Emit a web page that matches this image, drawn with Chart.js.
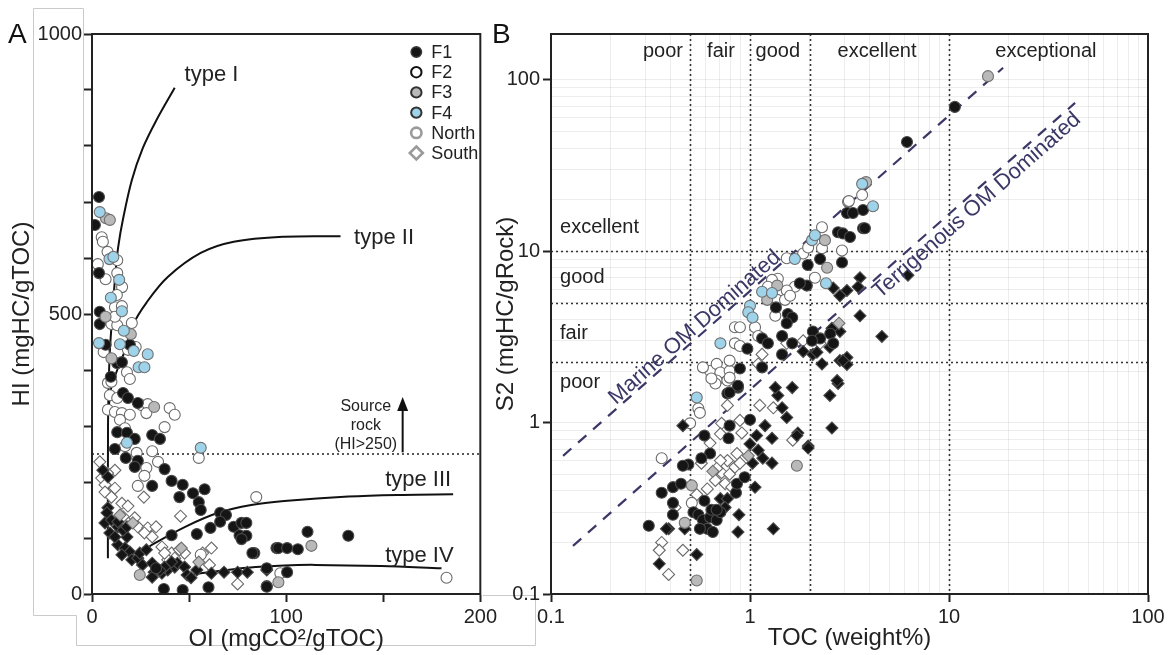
<!DOCTYPE html>
<html>
<head>
<meta charset="utf-8">
<script src="https://cdn.jsdelivr.net/npm/chart.js@4.4.1/dist/chart.umd.min.js"></script>
<style>
  html, body { margin: 0; padding: 0; background: #fff; }
  #wrap { position: relative; width: 1168px; height: 655px; overflow: hidden; }
  canvas { position: absolute; top: 0; }
  #bg { left: 0; }
  #chartA { left: 0; }
  #chartB { left: 490px; }
</style>
</head>
<body>
<div id="wrap">
  <canvas id="bg" width="1168" height="655"></canvas>
  <canvas id="chartA" width="500" height="655"></canvas>
  <canvas id="chartB" width="678" height="655"></canvas>
</div>
<script>
// ---- Panel A : HI vs OI (pairs are [OI, HI]) ----
const aF1N = [[3.6,709],[1.5,659],[3.6,573],[4,504],[4,482],[7,445],[19.5,445],[13,412],[15.4,414],[9.7,388],[16,359],[18.5,350],[23.6,341],[13,289],[18,288],[22,277],[31,284],[35,277],[11.8,259],[17.4,243],[23.6,238],[22,227],[37.4,223],[41,202],[46.7,195],[31,193],[52,180],[58,187],[45,173],[55,164],[56,150],[66,145],[69,141],[66,129],[61,118],[73,120],[77,127],[79.5,127],[76,105],[79.5,104],[77,98],[54,107],[41,105],[83.6,73],[95,82],[37,9],[46.7,7],[60,12],[90,14],[33,46],[111,111],[132,104],[96,82],[100.5,82],[106,80],[90,46],[100.5,39],[90,13],[82.6,73]];
const aF1S = [[5.6,221],[8.2,209],[8.2,154],[7.7,145],[6.7,127],[10,132],[9.2,109],[13.3,120],[13.3,88],[17,82],[19.5,75],[15.4,70],[20.5,61],[23.6,64],[26,52],[31,55],[32,39],[31,30],[36,37],[39,43],[42.6,48],[44,55],[47.7,48],[49,34],[51,29],[54,43],[61.5,37],[68,39],[75,39],[80,39],[90,43],[11.8,102],[18,102],[16,114],[41,57],[37.4,48],[13.3,129],[18,120],[24.6,73],[28,79],[35,42]];
const aF2N = [[5,637],[5.6,629],[8,611],[13,596],[3,589],[7,562],[13,573],[15.5,548],[12.8,534],[11.8,512],[15.4,514],[10,482],[13,480],[11.8,495],[20.5,484],[18.5,436],[22.5,441],[6,432],[18,396],[19.5,384],[9.2,379],[8.2,377],[10,379],[9.2,355],[13,350],[25.6,337],[28.7,339],[28,323],[40,332],[42.6,320],[8.2,329],[11.8,325],[15.4,323],[14.4,311],[17,296],[19.5,320],[37.4,298],[17,264],[55,243],[23,252],[31,255],[34,236],[28,225],[27,211],[23.6,193],[84.6,173],[56,70],[182.6,29],[97,37]];
const aF2S = [[4,236],[5,207],[6.7,195],[6.7,182],[10,173],[11.8,189],[11.8,221],[8,216],[45.6,139],[26.7,173],[15.4,162],[18.5,157],[16,138],[22,136],[23.6,120],[28.7,118],[27,109],[33,120],[31,102],[36,84],[41,73],[42.6,64],[47.7,73],[39,61],[61.5,82],[57,73],[37.4,73],[45,79],[75,18],[60.5,52]];
const aF3N = [[7.2,671],[9.2,668],[7,495],[20,464],[10,421],[32,334],[24.6,34],[96,21],[113,86]];
const aF3S = [[14.4,141],[21,127],[46,82],[55,57]];
const aF4N = [[4,682],[9,598],[11,602],[14,561],[9.7,529],[15.4,505],[16.4,470],[3.6,448],[14.4,446],[21.5,434],[28.7,428],[24,405],[27,405],[18,270],[56,261]];

// kerogen type curves
const typeI = [[8.2,64],[8.25,300],[9,420],[10.5,500],[12,570],[13.5,620],[16,670],[20.5,739],[26,795],[33,845],[42.6,904]];
const typeII = [[8.5,330],[10,370],[13,400],[17,435],[21,480],[28,520],[39,566],[56,609],[73,629],[99,638],[128,639]];
const typeIII = [[28,80],[31,88],[48,120],[65,145],[82,159],[99,166],[132,174],[160,177],[186,178]];
const typeIV = [[51,34],[58,38],[65,41],[80,47],[99,51],[115,52],[149,50],[180,46]];
const typeNames = ['type I', 'type II', 'type III', 'type IV'];
const typeLabelOI = [47.7, 135, 151, 151];
const typeLabelHI = [927, 636, 204, 68];

const sourceRockHI = 250;
const sourceText = ['Source', 'rock', '(HI>250)'];
const sourceTextOI = 141;
const sourceTextHI = [334, 300, 266];
const arrowOI = 160, arrowFromHI = 253, arrowToHI = 352;

const aXTicks = [0, 100, 200];
const aYTicks = [0, 500, 1000];

// ---- Panel B : S2 vs TOC (pairs are [TOC, S2]) ----
const bF1N = [[3.07,16.7],[3.29,16.7],[3.70,17.4],[2.77,12.9],[2.93,12.7],[3.18,12.1],[3.70,13.6],[2.25,9.0],[1.95,8.3],[2.90,8.6],[1.93,6.3],[1.78,6.5],[1.35,4.7],[1.55,4.3],[1.63,4.1],[0.97,2.7],[1.15,3.1],[1.23,2.9],[1.45,3.2],[1.63,2.9],[2.07,3.4],[2.25,3.1],[2.05,3.0],[2.53,3.3],[2.62,2.9],[0.89,2.07],[1.15,2.1],[1.45,2.5],[0.49,0.57],[0.36,0.39],[0.41,0.42],[0.45,0.44],[0.31,0.25],[0.41,0.29],[0.41,0.34],[0.52,0.30],[0.55,0.29],[0.58,0.27],[0.63,0.28],[0.68,0.27],[0.61,0.24],[0.56,0.24],[0.65,0.23],[0.71,0.30],[0.59,0.35],[0.64,0.31],[0.68,0.31],[0.85,0.39],[0.86,0.44],[0.94,0.48],[0.77,1.48],[0.87,1.60],[0.79,0.96],[0.78,0.81],[1.0,1.04],[0.59,0.84],[0.63,0.66],[0.57,0.62],[10.7,69.5],[6.15,43.4],[3.78,13.6],[0.46,0.56],[0.79,1.50],[0.87,1.64],[1.53,3.8]];
const bF1S = [[0.46,0.96],[0.39,0.24],[0.47,0.24],[0.35,0.15],[0.54,0.17],[0.88,0.29],[0.87,0.23],[1.31,0.24],[1.06,0.42],[0.71,0.36],[0.77,0.36],[0.75,0.32],[1.0,0.75],[1.08,0.84],[1.19,0.96],[1.10,0.69],[1.16,0.62],[1.29,0.81],[1.29,0.58],[1.03,0.58],[1.38,1.44],[1.45,1.22],[1.53,1.07],[1.74,0.87],[1.96,0.73],[2.52,1.44],[2.58,0.93],[2.77,1.69],[1.63,1.60],[1.34,1.60],[1.85,2.6],[2.07,2.5],[2.83,3.4],[3.57,7.0],[3.49,6.2],[3.07,5.9],[3.57,4.2],[2.83,2.3],[3.07,2.4],[2.30,2.2],[2.74,1.76],[2.62,6.1],[2.83,5.5],[6.22,7.24],[4.6,3.18],[3.07,2.18],[2.58,3.55],[2.52,2.75],[2.93,2.30],[1.96,0.71],[1.72,0.84],[2.17,2.57],[0.38,0.24]];
const bF2N = [[3.11,19.4],[3.66,21.3],[2.30,13.8],[1.85,9.7],[1.53,9.1],[2.30,10.4],[1.96,10.5],[2.90,10.1],[2.12,7.0],[1.68,6.2],[1.53,5.9],[1.38,6.9],[1.29,6.8],[1.23,6.2],[1.37,5.2],[1.50,5.2],[1.59,5.5],[1.34,4.2],[0.84,3.6],[0.89,3.6],[1.06,3.6],[1.10,3.2],[0.84,2.9],[0.89,2.8],[0.63,2.0],[0.68,2.2],[0.71,1.96],[0.79,2.0],[0.68,1.76],[0.67,1.69],[0.77,1.76],[0.58,2.10],[0.64,1.81],[0.79,2.30],[0.55,1.21],[0.56,1.14],[0.50,0.99],[0.36,0.62],[0.51,0.34],[3.14,19.6],[0.79,1.83]];
const bF2S = [[1.53,2.9],[1.85,3.0],[2.25,2.9],[1.15,2.5],[1.10,2.2],[0.42,0.32],[0.36,0.20],[0.35,0.18],[0.46,0.18],[0.39,0.13],[0.61,0.41],[0.67,0.46],[0.72,0.51],[0.79,0.50],[0.84,0.55],[0.89,0.58],[0.86,0.66],[0.77,0.60],[0.71,0.60],[0.68,0.54],[0.75,0.44],[0.81,0.42],[0.57,0.58],[0.54,0.38],[0.72,0.99],[0.77,1.26],[0.89,1.03],[0.91,0.87],[1.12,1.26],[1.31,1.22],[1.64,0.79],[0.63,0.76],[0.71,0.86]];
const bF3N = [[15.7,105],[3.83,25.3],[2.38,11.6],[2.44,8.0],[1.37,6.3],[1.22,5.2],[0.51,0.43],[0.47,0.26],[0.54,0.12],[1.72,0.56]];
const bF3S = [[0.65,0.52],[0.98,0.64],[2.80,3.8]];
const bF4N = [[3.66,24.7],[2.05,11.6],[2.12,12.4],[1.68,9.0],[2.41,6.5],[1.15,5.8],[1.29,5.7],[1.0,4.8],[0.98,4.4],[1.03,4.1],[0.71,2.9],[0.54,1.40],[4.15,18.3]];

const marineLine = [[0.115,0.64],[18.7,117.5]];
const terrLine = [[0.129,0.191],[43,73.3]];
const marineLabelTOC = 0.567, terrLabelTOC = 12.6;

const bTocBounds = [0.5, 1, 2, 10];
const bS2Bounds = [2.25, 5, 10];
const tocClassNames = ['poor', 'fair', 'good', 'excellent', 'exceptional'];
const tocClassX = [0.365, 0.715, 1.38, 4.35, 30.7];
const tocClassS2 = 146;
const s2ClassNames = ['excellent', 'good', 'fair', 'poor'];
const s2ClassY = [13.8, 7.05, 3.31, 1.71];
const s2ClassTOC = 0.111;

const bXTicks = [0.1, 1, 10, 100];
const bYTicks = [0.1, 1, 10, 100];

const legendNames = ['F1', 'F2', 'F3', 'F4', 'North', 'South'];

// ---- styles ----
const FONT = "'Liberation Sans', Arial, Helvetica, sans-serif";
const INK = '#222';
const OM = '#3b3766';
const fills = { F1: '#151515', F2: '#ffffff', F3: '#b9b9b9', F4: '#9fd3ea' };
const rims = { F1: '#4a4a4a', F2: '#6a6a6a', F3: '#6f6f6f', F4: '#6f6f6f' };

const toXY = pairs => pairs.map(p => ({ x: p[0], y: p[1] }));

function pts(pairs, f, diamond) {
  return {
    data: toXY(pairs),
    showLine: false,
    pointStyle: diamond ? 'rectRot' : 'circle',
    pointRadius: diamond ? 6 : 5.5,
    pointBorderWidth: 1.1,
    pointBackgroundColor: fills[f],
    pointBorderColor: rims[f]
  };
}

function curve(pairs, extra) {
  return Object.assign({
    data: toXY(pairs), showLine: true, pointRadius: 0,
    borderColor: '#111', borderWidth: 2, tension: 0.35, fill: false
  }, extra || {});
}

function logTicks(min, max) {
  const out = [];
  for (let e = -1; e <= 2; e++) {
    for (let m = 1; m <= 9; m++) {
      const v = parseFloat((m * Math.pow(10, e)).toPrecision(3));
      if (v >= min - 1e-9 && v <= max + 1e-9) out.push(v);
    }
  }
  return out;
}

function frame(ctx, ca) {
  ctx.save();
  ctx.strokeStyle = INK;
  ctx.lineWidth = 2;
  ctx.strokeRect(ca.left, ca.top, ca.right - ca.left, ca.bottom - ca.top);
  ctx.restore();
}

function marker(ctx, x, y, style, r, fill, stroke, lw) {
  ctx.save();
  ctx.fillStyle = fill;
  ctx.strokeStyle = stroke;
  ctx.lineWidth = lw;
  ctx.beginPath();
  if (style === 'diamond') {
    ctx.moveTo(x, y - r); ctx.lineTo(x + r, y); ctx.lineTo(x, y + r); ctx.lineTo(x - r, y); ctx.closePath();
  } else {
    ctx.arc(x, y, r, 0, Math.PI * 2);
  }
  ctx.fill();
  ctx.stroke();
  ctx.restore();
}

const tickFont = { family: FONT, size: 20 };
const titleFont = { family: FONT, size: 24 };

// faint frame left over around panel A in the source figure
(function () {
  const c = document.getElementById('bg').getContext('2d');
  c.strokeStyle = '#cacaca';
  c.lineWidth = 1;
  c.beginPath();
  c.moveTo(83.5, 598); c.lineTo(83.5, 8.5); c.lineTo(33.5, 8.5); c.lineTo(33.5, 615.5);
  c.lineTo(76.5, 615.5); c.lineTo(76.5, 645.5); c.lineTo(535.5, 645.5); c.lineTo(535.5, 595.5); c.lineTo(483, 595.5);
  c.stroke();
})();

const panelA = {
  id: 'panelA',
  beforeDatasetsDraw(chart) {
    const { ctx, chartArea: ca, scales: { y } } = chart;
    const yy = y.getPixelForValue(sourceRockHI);
    ctx.save();
    ctx.strokeStyle = INK;
    ctx.lineWidth = 1.6;
    ctx.setLineDash([2, 3]);
    ctx.beginPath(); ctx.moveTo(ca.left, yy); ctx.lineTo(ca.right, yy); ctx.stroke();
    ctx.restore();
  },
  afterDatasetsDraw(chart) {
    const { ctx, chartArea: ca, scales: { x, y } } = chart;
    ctx.save();
    ctx.fillStyle = INK;
    ctx.font = '22px ' + FONT;
    ctx.textAlign = 'left';
    ctx.textBaseline = 'middle';
    typeNames.forEach((t, i) => ctx.fillText(t, x.getPixelForValue(typeLabelOI[i]), y.getPixelForValue(typeLabelHI[i])));

    ctx.font = '16px ' + FONT;
    ctx.textAlign = 'center';
    sourceText.forEach((t, i) => ctx.fillText(t, x.getPixelForValue(sourceTextOI), y.getPixelForValue(sourceTextHI[i])));

    // arrow
    const ax = x.getPixelForValue(arrowOI);
    const y0 = y.getPixelForValue(arrowFromHI), y1 = y.getPixelForValue(arrowToHI);
    ctx.strokeStyle = '#111';
    ctx.lineWidth = 2;
    ctx.beginPath(); ctx.moveTo(ax, y0); ctx.lineTo(ax, y1 + 10); ctx.stroke();
    ctx.fillStyle = '#111';
    ctx.beginPath(); ctx.moveTo(ax, y1); ctx.lineTo(ax + 5.5, y1 + 14); ctx.lineTo(ax - 5.5, y1 + 14); ctx.closePath(); ctx.fill();

    // legend
    const lx = ca.right - 64, ly = ca.top + 18, step = 20.2;
    const styles = [
      ['circle', fills.F1, '#3a3a3a', 1.5],
      ['circle', '#fff', '#111', 2],
      ['circle', fills.F3, '#333', 2],
      ['circle', fills.F4, '#333', 2],
      ['circle', '#fff', '#9a9a9a', 2.6],
      ['diamond', '#fff', '#9a9a9a', 2.6]
    ];
    ctx.font = '18px ' + FONT;
    ctx.textAlign = 'left';
    ctx.textBaseline = 'middle';
    legendNames.forEach((n, i) => {
      const s = styles[i];
      marker(ctx, lx, ly + i * step, s[0], s[0] === 'diamond' ? 6.5 : 5.2, s[1], s[2], s[3]);
      ctx.fillStyle = INK;
      ctx.fillText(n, lx + 15, ly + i * step + 1);
    });
    ctx.restore();
  },
  afterDraw(chart) {
    const { ctx, chartArea } = chart;
    frame(ctx, chartArea);
    ctx.save();
    ctx.fillStyle = '#111';
    ctx.font = '28px ' + FONT;
    ctx.textBaseline = 'alphabetic';
    ctx.fillText('A', 8, 43);
    ctx.restore();
  }
};

const panelB = {
  id: 'panelB',
  beforeDatasetsDraw(chart) {
    const { ctx, chartArea: ca, scales: { x, y } } = chart;
    ctx.save();
    ctx.strokeStyle = '#333';
    ctx.lineWidth = 1.6;
    ctx.setLineDash([2, 3]);
    bTocBounds.forEach(v => {
      const px = Math.round(x.getPixelForValue(v)) + 0.5;
      ctx.beginPath(); ctx.moveTo(px, ca.top); ctx.lineTo(px, ca.bottom); ctx.stroke();
    });
    bS2Bounds.forEach(v => {
      const py = Math.round(y.getPixelForValue(v)) + 0.5;
      ctx.beginPath(); ctx.moveTo(ca.left, py); ctx.lineTo(ca.right, py); ctx.stroke();
    });
    ctx.restore();
  },
  afterDatasetsDraw(chart) {
    const { ctx, scales: { x, y } } = chart;
    ctx.save();
    ctx.fillStyle = INK;
    ctx.font = '20px ' + FONT;
    ctx.textBaseline = 'middle';
    ctx.textAlign = 'center';
    tocClassNames.forEach((t, i) => ctx.fillText(t, x.getPixelForValue(tocClassX[i]), y.getPixelForValue(tocClassS2)));
    ctx.textAlign = 'left';
    s2ClassNames.forEach((t, i) => ctx.fillText(t, x.getPixelForValue(s2ClassTOC), y.getPixelForValue(s2ClassY[i])));

    // rotated labels along the two dashed trend lines
    const along = (line, toc, text, base, dy) => {
      const [[x1, y1], [x2, y2]] = line;
      const k = Math.log(y2 / y1) / Math.log(x2 / x1);
      const s2 = y1 * Math.pow(toc / x1, k);
      const p1x = x.getPixelForValue(x1), p1y = y.getPixelForValue(y1);
      const p2x = x.getPixelForValue(x2), p2y = y.getPixelForValue(y2);
      const ang = Math.atan2(p2y - p1y, p2x - p1x);
      ctx.save();
      ctx.translate(x.getPixelForValue(toc), y.getPixelForValue(s2));
      ctx.rotate(ang);
      ctx.fillStyle = OM;
      ctx.font = '22px ' + FONT;
      ctx.textAlign = 'center';
      ctx.textBaseline = base;
      ctx.fillText(text, 0, dy);
      ctx.restore();
    };
    along(marineLine, marineLabelTOC, 'Marine OM Dominated', 'alphabetic', -3);
    along(terrLine, terrLabelTOC, 'Terrigenous OM Dominated', 'top', 1);
    ctx.restore();
  },
  afterDraw(chart) {
    const { ctx, chartArea } = chart;
    frame(ctx, chartArea);
    ctx.save();
    ctx.fillStyle = '#111';
    ctx.font = '28px ' + FONT;
    ctx.textBaseline = 'alphabetic';
    ctx.fillText('B', 2, 43);
    ctx.restore();
  }
};

const common = {
  responsive: false,
  animation: false,
  devicePixelRatio: 1,
  events: [],
  plugins: { legend: { display: false }, tooltip: { enabled: false } }
};

new Chart(document.getElementById('chartA'), {
  type: 'scatter',
  data: {
    datasets: [
      pts(aF4N, 'F4'), pts(aF3N, 'F3'), pts(aF3S, 'F3', true),
      pts(aF1N, 'F1'), pts(aF1S, 'F1', true),
      pts(aF2N, 'F2'), pts(aF2S, 'F2', true),
      curve(typeI), curve(typeII), curve(typeIII), curve(typeIV)
    ]
  },
  options: Object.assign({}, common, {
    layout: { padding: { top: 34, right: 18, left: 0, bottom: 0 } },
    scales: {
      x: {
        type: 'linear', min: 0, max: 200,
        afterFit: s => { s.height = 61; },
        ticks: { stepSize: 50, autoSkip: false, maxRotation: 0, padding: 3, color: INK, font: tickFont,
          callback: v => aXTicks.includes(v) ? String(v) : '' },
        grid: { drawOnChartArea: false, tickLength: 8, tickWidth: 2, tickColor: INK },
        border: { color: INK, width: 2 },
        title: { display: true, text: 'OI (mgCO²/gTOC)', color: INK, font: titleFont, padding: { top: 0, bottom: 1 } }
      },
      y: {
        type: 'linear', min: 0, max: 1000,
        afterFit: s => { s.width = 92; },
        ticks: { stepSize: 100, autoSkip: false, padding: 2, color: INK, font: tickFont,
          callback: v => aYTicks.includes(v) ? String(v) : '' },
        grid: { drawOnChartArea: false, tickLength: 8, tickWidth: 2, tickColor: INK },
        border: { color: INK, width: 2 },
        title: { display: true, text: 'HI (mgHC/gTOC)', color: INK, font: titleFont, padding: { top: 8, bottom: 0 } }
      }
    }
  }),
  plugins: [panelA]
});

const isMajor = c => c.tick && bXTicks.includes(c.tick.value);

new Chart(document.getElementById('chartB'), {
  type: 'scatter',
  data: {
    datasets: [
      pts(bF4N, 'F4'), pts(bF3N, 'F3'), pts(bF3S, 'F3', true),
      pts(bF1N, 'F1'), pts(bF1S, 'F1', true),
      pts(bF2N, 'F2'), pts(bF2S, 'F2', true),
      curve(marineLine, { borderColor: OM, borderWidth: 2.2, borderDash: [11, 9], tension: 0 }),
      curve(terrLine, { borderColor: OM, borderWidth: 2.2, borderDash: [11, 9], tension: 0 })
    ]
  },
  options: Object.assign({}, common, {
    layout: { padding: { top: 34, right: 20, left: 0, bottom: 0 } },
    scales: {
      x: {
        type: 'logarithmic', min: 0.1, max: 100,
        afterFit: s => { s.height = 61; },
        afterBuildTicks: s => { s.ticks = logTicks(0.1, 100).map(v => ({ value: v })); },
        ticks: { autoSkip: false, maxRotation: 0, padding: 3, color: INK, font: tickFont,
          callback: v => bXTicks.includes(v) ? String(v) : '' },
        grid: { drawOnChartArea: true, color: 'rgba(0,0,0,0.07)', lineWidth: 1, tickLength: 8, tickWidth: 2,
          tickColor: c => isMajor(c) ? INK : 'rgba(0,0,0,0)' },
        border: { color: INK, width: 2 },
        title: { display: true, text: 'TOC (weight%)', color: INK, font: titleFont, padding: { top: 0, bottom: 2 } }
      },
      y: {
        type: 'logarithmic', min: 0.1, max: 185,
        afterFit: s => { s.width = 61; },
        afterBuildTicks: s => { s.ticks = logTicks(0.1, 185).map(v => ({ value: v })); },
        ticks: { autoSkip: false, padding: 3, color: INK, font: tickFont,
          callback: v => bYTicks.includes(v) ? String(v) : '' },
        grid: { drawOnChartArea: true, color: 'rgba(0,0,0,0.07)', lineWidth: 1, tickLength: 8, tickWidth: 2,
          tickColor: c => (c.tick && bYTicks.includes(c.tick.value)) ? INK : 'rgba(0,0,0,0)' },
        border: { color: INK, width: 2 },
        title: { display: true, text: 'S2 (mgHC/gRock)', color: INK, font: titleFont, padding: { top: 2, bottom: 0 } }
      }
    }
  }),
  plugins: [panelB]
});
</script>
</body>
</html>
